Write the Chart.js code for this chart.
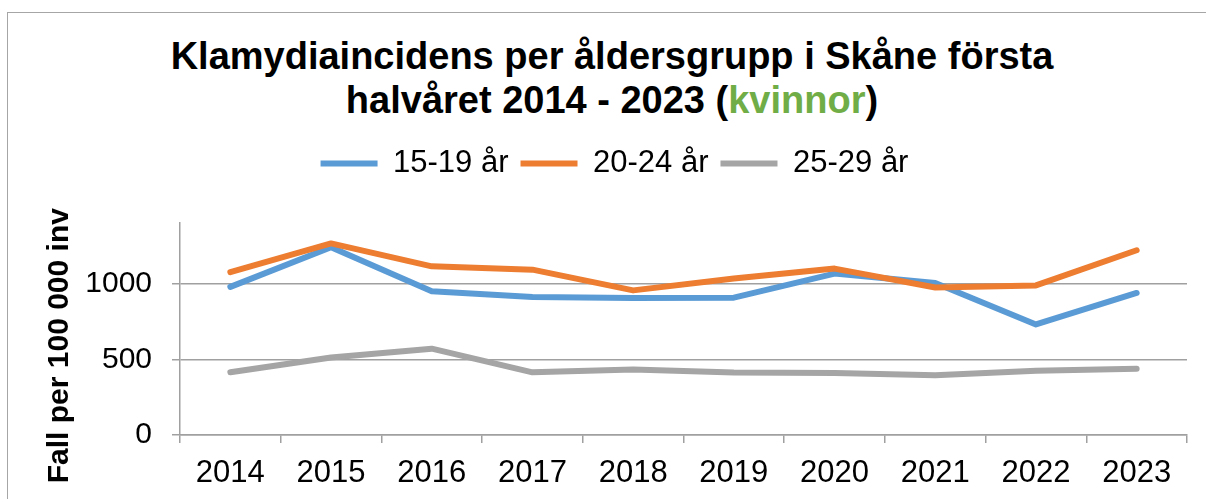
<!DOCTYPE html>
<html>
<head>
<meta charset="utf-8">
<script src="https://cdn.jsdelivr.net/npm/chart.js@4/dist/chart.umd.min.js"></script>
<style>
  html, body { margin: 0; padding: 0; background: #fff; overflow: hidden; }
  #frame { position: absolute; left: 7px; top: 12px; width: 1400px; height: 700px; border: 1px solid #a6a6a6; }
  #title {
    position: absolute; left: 0; top: 34px; width: 1224px; text-align: center;
    font: bold 38px "Liberation Sans", Arial, sans-serif; line-height: 44px; color: #000;
  }
  #title .green { color: #70ad47; }
  #wrap { position: absolute; left: 0; top: 0; width: 1206px; height: 499px; }
</style>
</head>
<body>
<div id="frame"></div>
<div id="title">Klamydiaincidens per åldersgrupp i Skåne första<br>halvåret 2014 - 2023 (<span class="green">kvinnor</span>)</div>
<div id="wrap"><canvas id="chart" width="1206" height="499"></canvas></div>
<script>
const years = ["2014", "2015", "2016", "2017", "2018", "2019", "2020", "2021", "2022", "2023"];
const seriesNames = ["15-19 år", "20-24 år", "25-29 år"];
const age1519 = [978, 1240, 949, 912, 905, 907, 1066, 1004, 730, 938];
const age2024 = [1076, 1265, 1114, 1092, 955, 1033, 1099, 974, 988, 1220];
const age2529 = [414, 512, 570, 414, 432, 413, 409, 394, 425, 437];
const yTicks = [0, 500, 1000];

const colors = ["#5b9bd5", "#ed7d31", "#a5a5a5"];
const font = '"Liberation Sans", Arial, sans-serif';

// extra space under the legend
const legendGap = {
    id: "legendGap",
    beforeInit(chart) {
        const fit = chart.legend.fit;
        chart.legend.fit = function () {
            fit.bind(chart.legend)();
            this.height += 34;
        };
    }
};

function line(label, data, color, order) {
    return {
        label: label,
        data: data,
        borderColor: color,
        backgroundColor: color,
        borderWidth: 6,
        borderCapStyle: "round",
        borderJoinStyle: "round",
        pointRadius: 0,
        tension: 0,
        order: order
    };
}

const ctx = document.querySelector("#chart").getContext("2d");
const myChart = new Chart(ctx, {
    type: "line",
    data: {
        labels: years,
        datasets: [
            line(seriesNames[0], age1519, colors[0], 1),
            line(seriesNames[1], age2024, colors[1], 0),
            line(seriesNames[2], age2529, colors[2], 2)
        ]
    },
    options: {
        responsive: false,
        animation: false,
        layout: { padding: { left: 42, right: 19, top: 136, bottom: 0 } },
        plugins: {
            tooltip: { enabled: false },
            legend: {
                position: "top",
                labels: {
                    usePointStyle: true,
                    pointStyle: "line",
                    pointStyleWidth: 57,
                    padding: 12,
                    color: "#000",
                    font: { family: font, size: 31 },
                    sort: (a, b) => a.datasetIndex - b.datasetIndex
                }
            }
        },
        scales: {
            x: {
                offset: true,
                grid: { offset: true, drawOnChartArea: false, drawTicks: true, tickLength: 8, color: "#a0a0a0", lineWidth: 1.5 },
                border: { color: "#a0a0a0", width: 1.5 },
                ticks: { color: "#000", font: { family: font, size: 31 }, padding: 12, maxRotation: 0, autoSkip: false },
                afterFit: (scale) => { scale.height = 64; }
            },
            y: {
                min: 0,
                max: 1400,
                grid: { color: "#a0a0a0", lineWidth: 1.5, tickLength: 8 },
                border: { color: "#a0a0a0", width: 1.5 },
                ticks: {
                    stepSize: 500, color: "#000", font: { family: font, size: 30 }, padding: 20,
                    callback: (v) => String(v)
                },
                afterBuildTicks: (scale) => {
                    scale.ticks = yTicks.map(v => ({ value: v }));
                },
                title: {
                    display: true,
                    text: "Fall per 100 000 inv    ",
                    color: "#000",
                    font: { family: font, size: 30, weight: "bold" },
                    padding: 0
                },
                afterFit: (scale) => { scale.width = 138; }
            }
        }
    },
    plugins: [legendGap]
});
</script>
</body>
</html>
